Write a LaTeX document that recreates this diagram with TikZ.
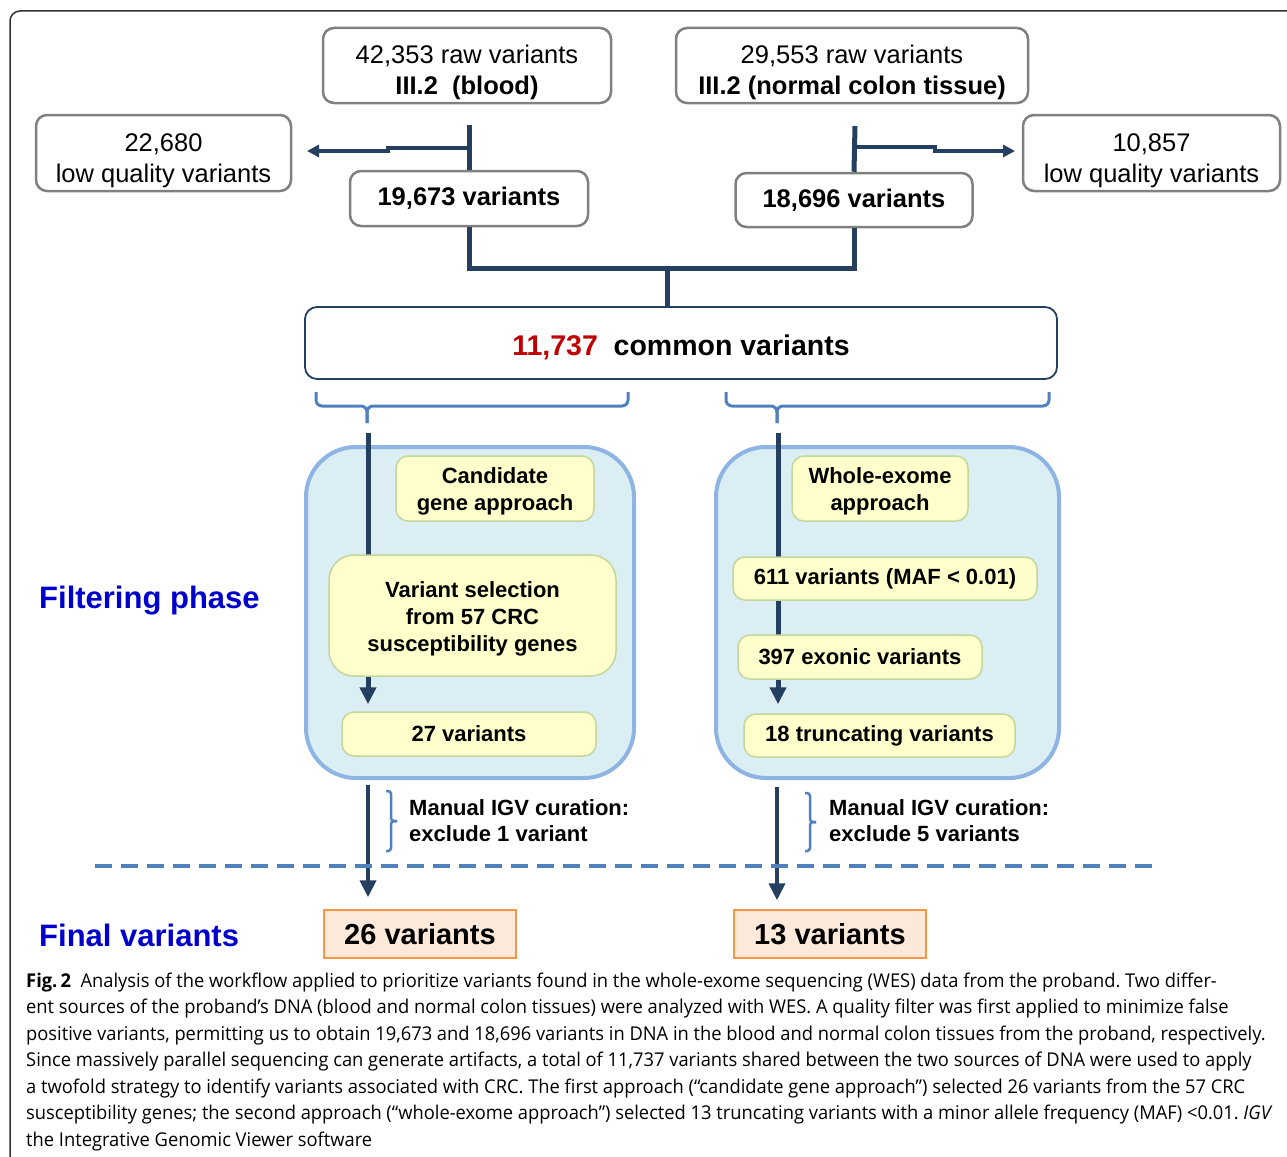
\documentclass[tikz,border=0pt]{standalone}
\usepackage{fontspec}
\setmainfont{Liberation Sans}
\newfontfamily\capfont[FakeStretch=0.964]{Open Sans}
\usepackage{tikz}
\usetikzlibrary{arrows.meta,calc}
\usepackage{xcolor}
\definecolor{wfnavy}{RGB}{36,63,96}
\definecolor{wfgray}{RGB}{128,128,128}
\definecolor{wfblue}{RGB}{79,129,189}
\definecolor{wfpanel}{RGB}{219,238,244}
\definecolor{wfpanelline}{RGB}{141,180,226}
\definecolor{wfyellow}{RGB}{255,255,204}
\definecolor{wfgreen}{RGB}{195,214,155}
\definecolor{wfpeach}{RGB}{253,233,217}
\definecolor{wforange}{RGB}{247,150,70}
\definecolor{wfred}{RGB}{192,0,0}
\definecolor{wftitle}{RGB}{0,0,204}
\newcommand{\topgap}[1]{\rule{0pt}{#1}}

\tikzset{
  rawbox/.style={draw=wfgray,line width=2.5pt,rounded corners=11pt,fill=white,
    inner sep=0pt,align=center,font=\fontsize{25.5}{31}\selectfont},
  commonbox/.style={draw=wfnavy,line width=1.8pt,rounded corners=12pt,fill=white,
    inner sep=0pt,font=\bfseries\fontsize{28.5}{34}\selectfont},
  panel/.style={draw=wfpanelline,line width=4pt,rounded corners=50pt,fill=wfpanel,inner sep=0pt},
  yelbox/.style={draw=wfgreen,line width=1.5pt,rounded corners=12pt,fill=wfyellow,
    inner sep=0pt,align=center,font=\bfseries\fontsize{22}{27}\selectfont},
  finalbox/.style={draw=wforange,line width=1.5pt,fill=wfpeach,inner sep=0pt,
    minimum width=192pt,minimum height=48pt,font=\bfseries\fontsize{29}{34}\selectfont},
  phase/.style={anchor=west,inner sep=0pt,text=wftitle,font=\bfseries\fontsize{31}{36}\selectfont},
  curation/.style={anchor=west,inner sep=0pt,align=left,font=\bfseries\fontsize{22}{26}\selectfont},
  link/.style={draw=wfnavy,line width=5pt},
  flow/.style={draw=wfnavy,line width=5pt,-{Triangle[length=17pt,width=16pt]}},
  sidearrow/.style={draw=wfnavy,line width=4pt,-{Triangle[length=12pt,width=12pt]}},
  bracket/.style={draw=wfblue,line width=3pt,rounded corners=6pt},
  smallbracket/.style={draw=wfblue,line width=2.5pt,rounded corners=3pt},
  capline/.style={anchor=base west,inner sep=0pt,font=\capfont\fontsize{19}{26.5}\selectfont}
}

\begin{document}
\frenchspacing
\begin{tikzpicture}[x=1pt,y=-1pt,>=Latex]
\useasboundingbox (0,0) rectangle (1287,1156);
\draw[black!80,line width=1.5pt,rounded corners=10pt] (10,1160) -- (10,11) -- (1290,11);

% sequencing sources
\node[rawbox,minimum width=288pt,minimum height=75pt] (bloodraw) at (467,65.5)
  {\topgap{32.6pt}42,353 raw variants\\\textbf{III.2~~(blood)}};
\node[rawbox,minimum width=352pt,minimum height=75pt] (colonraw) at (852,65.5)
  {\topgap{32.6pt}29,553 raw variants\\\textbf{III.2 (normal colon tissue)}};
\node[rawbox,minimum width=255pt,minimum height=76pt] (bloodlow) at (163.5,153)
  {\topgap{32.3pt}22,680\\low quality variants};
\node[rawbox,minimum width=257pt,minimum height=76pt] (colonlow) at (1151.5,153)
  {\topgap{32.3pt}10,857\\low quality variants};
\node[rawbox,minimum width=238pt,minimum height=55pt,font=\bfseries\fontsize{25.5}{31}\selectfont]
  (bloodok) at (469,198.5) {19,673 variants};
\node[rawbox,minimum width=237pt,minimum height=54pt,font=\bfseries\fontsize{25.5}{31}\selectfont]
  (colonok) at (854,200) {18,696 variants};

% quality filter
\coordinate (bloodtop) at (469,125);
\coordinate (colontop) at (855,126);
\coordinate (bloodlowin) at (307,151);
\coordinate (colonlowin) at (1015,151);
\draw[link] (bloodtop) -- (bloodok.north);
\draw[link] (colontop) -- (colonok.north);
\draw[sidearrow] (469,148) -- (388,148) -- (388,151) -- (bloodlowin);
\draw[sidearrow] (855,147) -- (935,147) -- (935,151) -- (colonlowin);

% common variants
\node[commonbox,minimum width=752pt,minimum height=72pt,text height=24pt,text depth=0pt]
  (common) at (681,343) {\textcolor{wfred}{11,737}~~common variants};
\coordinate (merge) at (667,268);
\draw[link] (bloodok.south) |- (merge) -| (colonok.south);
\draw[link] (merge) -- (merge |- common.north);

\draw[bracket] (316,392) -- (316,406) -- (367,406) -- (367,423);
\draw[bracket] (367,423) -- (367,406) -- (628,406) -- (628,392);
\draw[bracket] (726,392) -- (726,406) -- (777,406) -- (777,423);
\draw[bracket] (777,423) -- (777,406) -- (1049,406) -- (1049,392);

% filtering phase
\node[phase] (filtlabel) at (39,601) {Filtering phase};
\node[panel,minimum width=328pt,minimum height=331pt] (candpanel) at (470,612.5) {};
\node[panel,minimum width=343pt,minimum height=331pt] (exomepanel) at (887.5,612.5) {};

\coordinate (candstart) at (368,433);
\coordinate (exomestart) at (778,433);

\node[yelbox,minimum width=198pt,minimum height=65pt] (candhead) at (495,488.5)
  {\topgap{22pt}Candidate\\gene approach};
\node[yelbox,minimum width=254pt,minimum height=44pt] (cand27) at (469,734) {27 variants};
\draw[flow,shorten >=7pt] (candstart) -- (candstart |- cand27.north);
\node[yelbox,minimum width=287pt,minimum height=121pt,rounded corners=25pt] (candsel) at (472.5,615.5)
  {\topgap{22pt}Variant selection\\from 57 CRC\\susceptibility genes};

\node[yelbox,minimum width=176pt,minimum height=65pt] (exomehead) at (880,488.5)
  {\topgap{22pt}Whole-exome\\approach};
\node[yelbox,minimum width=271pt,minimum height=43pt] (exome18) at (879.5,735.5) {18 truncating variants};
\draw[flow,shorten >=9pt] (exomestart) -- (exomestart |- exome18.north);
\node[yelbox,minimum width=304pt,minimum height=43pt] (exome611) at (885,578.5)
  {611 variants (MAF < 0.01)};
\node[yelbox,minimum width=244pt,minimum height=44pt] (exome397) at (860,657)
  {397 exonic variants};

% manual curation
\coordinate (candout) at (368,785);
\coordinate (exomeout) at (777,787);
\node[finalbox] (candfinal) at (420,934) {26 variants};
\node[finalbox] (exomefinal) at (830,934) {13 variants};
\draw[flow,line width=4pt,shorten >=12pt] (candout) -- (candout |- candfinal.north);
\draw[flow,line width=4pt,shorten >=9pt] (exomeout) -- (exomeout |- exomefinal.north);

\draw[smallbracket] (386,791) -- (391,791) -- (391,821) -- (397,821);
\draw[smallbracket] (397,821) -- (391,821) -- (391,851) -- (386,851);
\draw[smallbracket] (805,793) -- (810,793) -- (810,822) -- (816,822);
\draw[smallbracket] (816,822) -- (810,822) -- (810,851) -- (805,851);
\node[curation] (candcur) at (409,821) {Manual IGV curation:\\exclude 1 variant};
\node[curation] (exomecur) at (829,821) {Manual IGV curation:\\exclude 5 variants};

\draw[wfblue,line width=4pt,dash pattern=on 17pt off 9pt] (95,866) -- (1157,866);
\node[phase] (finallabel) at (39,935) {Final variants};

% caption
\node[capline] (cap1) at (26,987) {\textbf{Fig.\,2}\enspace Analysis of the workflow applied to prioritize variants found in the whole-exome sequencing (WES) data from the proband. Two differ-};
\node[capline] (cap2) at (26,1013.5) {ent sources of the proband’s DNA (blood and normal colon tissues) were analyzed with WES. A quality filter was first applied to minimize false};
\node[capline] (cap3) at (26,1040) {positive variants, permitting us to obtain 19,673 and 18,696 variants in DNA in the blood and normal colon tissues from the proband, respectively.};
\node[capline] (cap4) at (26,1066.5) {Since massively parallel sequencing can generate artifacts, a total of 11,737 variants shared between the two sources of DNA were used to apply};
\node[capline] (cap5) at (26,1093) {a twofold strategy to identify variants associated with CRC. The first approach (“candidate gene approach”) selected 26 variants from the 57 CRC};
\node[capline] (cap6) at (26,1119.5) {susceptibility genes; the second approach (“whole-exome approach”) selected 13 truncating variants with a minor allele frequency (MAF) <0.01. \textit{IGV}};
\node[capline] (cap7) at (26,1146) {the Integrative Genomic Viewer software};
\end{tikzpicture}
\end{document}
